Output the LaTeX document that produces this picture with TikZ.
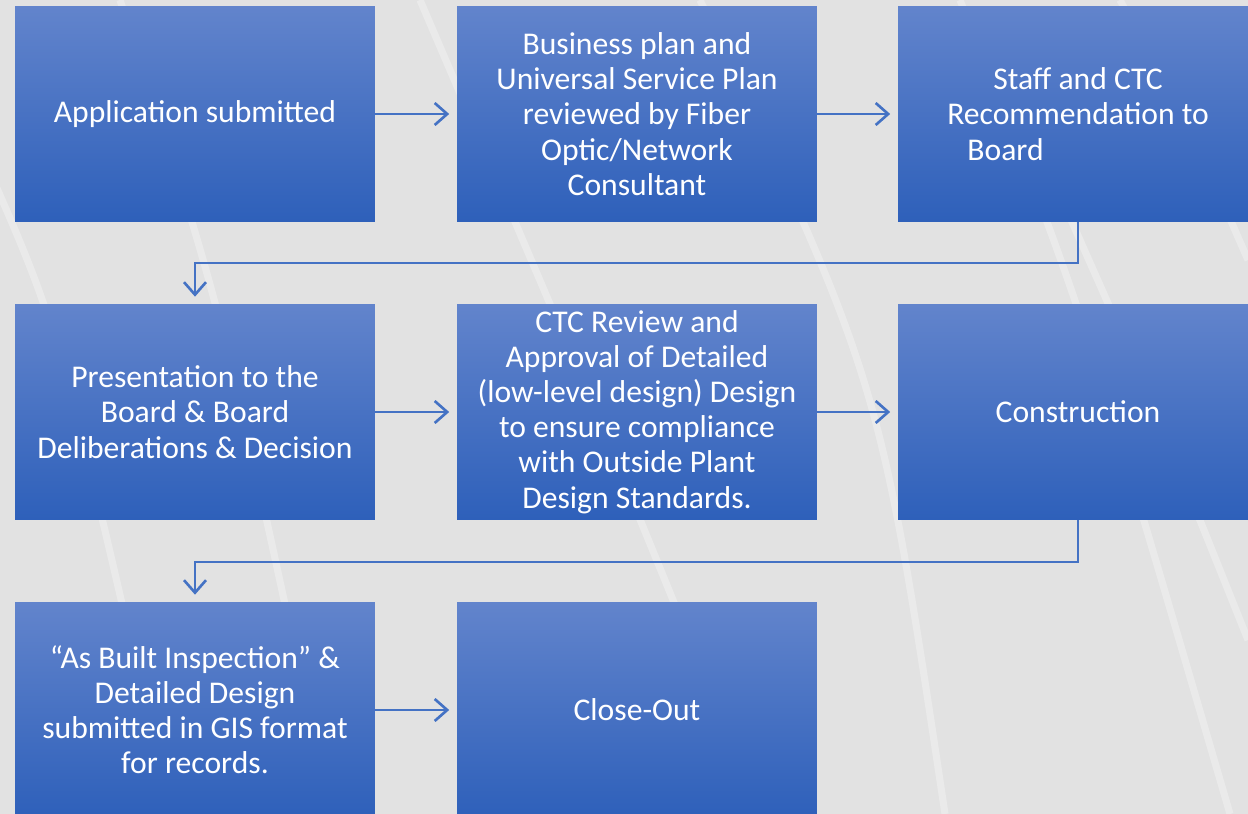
\documentclass[tikz,border=0pt]{standalone}
\usepackage{fontspec}
\setmainfont{Carlito}
\usetikzlibrary{arrows.meta}
\definecolor{boxtop}{RGB}{98,132,204}
\definecolor{boxbot}{RGB}{46,96,186}
\definecolor{flowblue}{RGB}{68,114,196}
\definecolor{bggray}{RGB}{226,226,226}
\tikzset{
  stepbox/.style={rectangle, top color=boxtop, bottom color=boxbot, draw=none,
    minimum width=7.2cm, minimum height=4.3cm, inner sep=0pt,
    text=white, align=center, font=\fontsize{18}{20}\selectfont},
  flow/.style={draw=flowblue, line width=1.5pt, shorten >=0.15cm,
    -{Straight Barb[length=0.25cm,width=0.44cm]}},
  streak/.style={white, line width=4pt, opacity=0.3}
}
\begin{document}
\begin{tikzpicture}[x=0.02cm,y=-0.02cm]
                \useasboundingbox (0,0) rectangle (1248,814);
                \clip (0,0) rectangle (1248,814);
                \fill[bggray] (0,0) rectangle (1248,814);
                % background streaks
                \draw[streak] (-20,150) .. controls (60,330) .. (170,814);
                \draw[streak] (120,0) .. controls (220,300) .. (330,814);
                \draw[streak] (420,0) .. controls (600,420) .. (760,814);
                \draw[streak] (700,0) .. controls (880,380) .. (945,814);
                \draw[streak] (960,0) .. controls (1080,300) .. (1230,814);
                \draw[streak] (1040,150) .. controls (1160,420) .. (1248,640);
                \draw[streak] (1120,0) .. controls (1200,150) .. (1248,260);

                \node[stepbox] (apply) at (195,114) {Application submitted};
                \node[stepbox] (review) at (637,114) {Business plan and\\Universal Service Plan\\reviewed by Fiber\\Optic/Network\\Consultant};
                \node[stepbox] (staff) at (1078,114) {Staff and CTC\\Recommendation to\\Board\hspace*{2.9cm}};

                \node[stepbox] (present) at (195,412) {Presentation to the\\Board \& Board\\Deliberations \& Decision};
                \node[stepbox] (ctc) at (637,412) {CTC Review and\\Approval of Detailed\\(low-level design) Design\\to ensure compliance\\with Outside Plant\\Design Standards.};
                \node[stepbox] (build) at (1078,412) {Construction};

                \node[stepbox] (asbuilt) at (195,710) {``As Built Inspection'' \&\\Detailed Design\\submitted in GIS format\\for records.};
                \node[stepbox] (close) at (637,710) {Close-Out};

                \coordinate (bend1) at (0,263);
                \coordinate (bend2) at (0,562);

                \draw[flow] (apply) -- (review);
                \draw[flow] (review) -- (staff);
                \draw[flow] (staff.south) -- (staff.south |- bend1) -- (present.north |- bend1) -- (present.north);
                \draw[flow] (present) -- (ctc);
                \draw[flow] (ctc) -- (build);
                \draw[flow] (build.south) -- (build.south |- bend2) -- (asbuilt.north |- bend2) -- (asbuilt.north);
                \draw[flow] (asbuilt) -- (close);
            \end{tikzpicture}
\end{document}
